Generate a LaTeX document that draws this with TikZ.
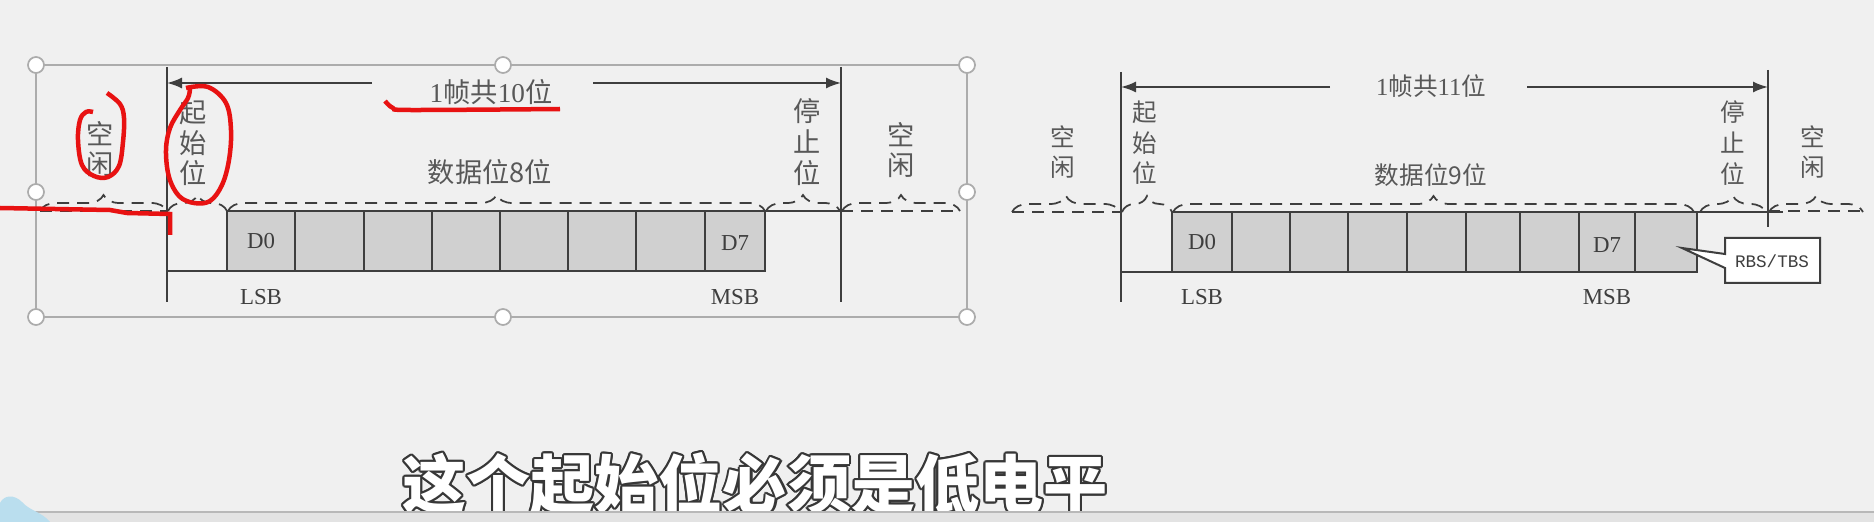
\documentclass[tikz,border=0pt]{standalone}
\usepackage{fontspec}
\setmainfont{Liberation Serif}
\setmonofont{Liberation Mono}
\newfontfamily\cjk{Noto Sans CJK SC}
\usetikzlibrary{
    arrows.meta,
    decorations.pathreplacing,
    positioning
}
\definecolor{pagebg}{RGB}{240,240,240}
\definecolor{ink}{RGB}{62,62,62}
\definecolor{muted}{RGB}{88,88,88}
\definecolor{cellfill}{RGB}{208,208,208}
\definecolor{framegray}{RGB}{172,172,172}
\definecolor{pen}{RGB}{232,18,18}
\definecolor{barblue}{RGB}{186,222,238}
\definecolor{capline}{RGB}{55,55,55}
\tikzset{
    line cap=round,
    line join=round,
    edge/.style={draw=ink, line width=0.4mm},
    idle/.style={draw=ink, line width=0.35mm, dash pattern=on 2.4mm off 1.6mm},
    dashbrace/.style={
        decorate,
        decoration={brace, amplitude=3.2mm},
        draw=ink,
        line width=0.35mm,
        dash pattern=on 2.4mm off 1.6mm
    },
    dimarrow/.style={
        -{Latex[length=3mm, width=2.2mm]},
        draw=ink,
        line width=0.35mm
    },
    bitcell/.style={fill=cellfill, draw=ink, line width=0.4mm},
    vlabel/.style={
        align=center,
        inner sep=0pt,
        text=muted,
        font=\cjk\fontsize{14pt}{17.4pt}\selectfont
    },
    wide label/.style={vlabel, font=\cjk\fontsize{15.5pt}{17.4pt}\selectfont},
    title/.style={inner sep=0pt, text=muted, font=\fontsize{14pt}{16pt}\selectfont},
    wide title/.style={title, font=\fontsize{15.5pt}{17pt}\selectfont},
    bitname/.style={inner sep=0pt, text=ink, font=\fontsize{13pt}{16pt}\selectfont},
    frame/.style={draw=framegray, line width=0.3mm},
    handle/.style={draw=framegray, fill=white, line width=0.35mm},
    tagbox/.style={draw=ink, fill=white, line width=0.4mm},
    tagtext/.style={inner sep=0pt, text=ink, font=\ttfamily\fontsize{10pt}{12pt}\selectfont},
    scribble/.style={draw=pen, line width=0.9mm},
    caption/.style={inner sep=0pt, font=\cjk\bfseries\fontsize{36.5pt}{40pt}\selectfont}
}

\begin{document}
\begin{tikzpicture}[x=0.2mm, y=-0.2mm]
\useasboundingbox (0,0) rectangle (1874,522);
\fill[pagebg] (0,0) rectangle (1874,522);

% Selection frame round the left figure
\draw[frame] (36,65) rectangle (967,317);

% ---------------- Left: 1 frame = 10 bits ----------------
\begin{scope}
    \coordinate (LstartT) at (167,67);
    \coordinate (LstartB) at (167,302);
    \coordinate (LstopT) at (841,67);
    \coordinate (LstopB) at (841,302);
    \draw[edge] (LstartT) -- (LstartB);
    \draw[edge] (LstopT) -- (LstopB);

    % Frame length
    \node[wide title] (Ltitle) at (491,92) {1{\cjk 帧共}10{\cjk 位}};
    \coordinate (LarrA) at (372,83);
    \coordinate (LarrB) at (593,83);
    \draw[dimarrow] (LarrA) -- (LstartT |- LarrA);
    \draw[dimarrow] (LarrB) -- (LstopT |- LarrB);

    % Signal
    \draw[idle] (40,211) -- (LstartT |- 0,211);
    \draw[edge] (LstartB |- 0,271) -- (227,271);
    \foreach \a/\b in {227/295, 295/364, 364/432, 432/500, 500/568, 568/636, 636/705, 705/765}
        \draw[bitcell] (\a,211) rectangle (\b,271);
    \draw[edge] (765,211) -- (LstopT |- 0,211);
    \draw[idle] (LstopT |- 0,211) -- (960,211);

    % Braces
    \foreach \a/\b in {40/167, 168/227, 228/765, 766/840, 842/960}
        \draw[dashbrace] (\a,211) -- (\b,211);

    % Labels
    \node[wide label] (LidleA) at (100,149) {空\\闲};
    \node[wide label] (Lstart) at (193,143) {起\\始\\位};
    \node[wide label] (Ldata) at (490,172) {数据位8位};
    \node[wide label] (Lstop) at (807,142) {停\\止\\位};
    \node[wide label] (LidleB) at (901,150) {空\\闲};
    \node[bitname] (Ld0) at (261,241) {D0};
    \node[bitname] (Ld7) at (735,243) {D7};
    \node[bitname] (Llsb) at (261,297) {LSB};
    \node[bitname] (Lmsb) at (735,297) {MSB};
\end{scope}

% ---------------- Right: 1 frame = 11 bits ----------------
\begin{scope}
    \coordinate (RstartT) at (1121,72);
    \coordinate (RstartB) at (1121,302);
    \coordinate (RstopT) at (1768,70);
    \coordinate (RstopB) at (1768,227);
    \draw[edge] (RstartT) -- (RstartB);
    \draw[edge] (RstopT) -- (RstopB);

    % Frame length
    \node[title] (Rtitle) at (1431,86) {1{\cjk 帧共}11{\cjk 位}};
    \coordinate (RarrA) at (1330,87);
    \coordinate (RarrB) at (1527,87);
    \draw[dimarrow] (RarrA) -- (RstartT |- RarrA);
    \draw[dimarrow] (RarrB) -- (RstopT |- RarrB);

    % Signal
    \draw[idle] (1012,212) -- (RstartT |- 0,212);
    \draw[edge] (RstartB |- 0,272) -- (1172,272);
    \foreach \a/\b in {1172/1232, 1232/1290, 1290/1348, 1348/1407, 1407/1466, 1466/1520, 1520/1579, 1579/1635, 1635/1697}
        \draw[bitcell] (\a,212) rectangle (\b,272);
    \draw[edge] (1697,212) -- (1783,212);
    \draw[idle] (RstopT |- 0,211) -- (1863,211);

    % Braces
    \foreach \a/\b in {1012/1120, 1122/1172, 1173/1694, 1700/1766, 1769/1863}
        \draw[dashbrace] (\a,212) -- (\b,212);

    % Labels
    \node[vlabel] (RidleA) at (1063,152) {空\\闲};
    \node[vlabel] (Rstart) at (1145,143) {起\\始\\位};
    \node[vlabel] (Rdata) at (1431,175) {数据位9位};
    \node[vlabel] (Rstop) at (1733,143) {停\\止\\位};
    \node[vlabel] (RidleB) at (1813,152) {空\\闲};
    \node[bitname] (Rd0) at (1202,242) {D0};
    \node[bitname] (Rd7) at (1607,245) {D7};
    \node[bitname] (Rlsb) at (1202,297) {LSB};
    \node[bitname] (Rmsb) at (1607,297) {MSB};

    % Callout for the 9th bit
    \draw[tagbox] (1725,238) -- (1820,238) -- (1820,283) -- (1725,283)
        -- (1725,268) -- (1682,248) -- (1725,254) -- cycle;
    \node[tagtext] (Rtag) at (1772,261) {RBS/TBS};
\end{scope}

% Selection handles
\foreach \p in {(36,65), (503,65), (967,65), (36,192), (967,192), (36,317), (503,317), (967,317)}
    \draw[handle] \p circle (1.6mm);

% Red pen marks
\draw[scribble] plot[smooth, tension=0.6] coordinates {(107,93) (120,104) (124,118) (123,142) (119,166) (108,177) (94,176) (82,165) (78,140) (80,120) (86,112) (93,112)};
\draw[scribble] plot[smooth, tension=0.6] coordinates {(186,88) (208,87) (226,103) (231,130) (229,160) (222,185) (210,201) (194,203) (179,196) (169,177) (166,150) (170,128) (180,110) (188,98) (190,89)};
\draw[scribble] (0,208) -- (110,210) -- (127,213) -- (170,214) -- (170,235);
\draw[scribble] plot[smooth, tension=0.5] coordinates {(385,101) (393,108) (410,110) (560,109)};

% Subtitle, white with a dark rim
\coordinate (capat) at (755,484);
\foreach \ang in {0,30,...,330}
    \node[caption, text=capline] at ([shift={(\ang:0.42mm)}]capat) {这个起始位必须是低电平};
\node[caption, text=white] (subtitle) at (capat) {这个起始位必须是低电平};

% Bottom bar
\fill[black!11] (0,512) rectangle (1874,522);
\draw[black!28, line width=0.35mm] (0,512) -- (1874,512);
\fill[barblue] (0,522) -- (0,503) .. controls (4,495) and (14,494) .. (22,502)
    .. controls (30,511) and (42,512) .. (50,522) -- cycle;
\end{tikzpicture}
\end{document}
